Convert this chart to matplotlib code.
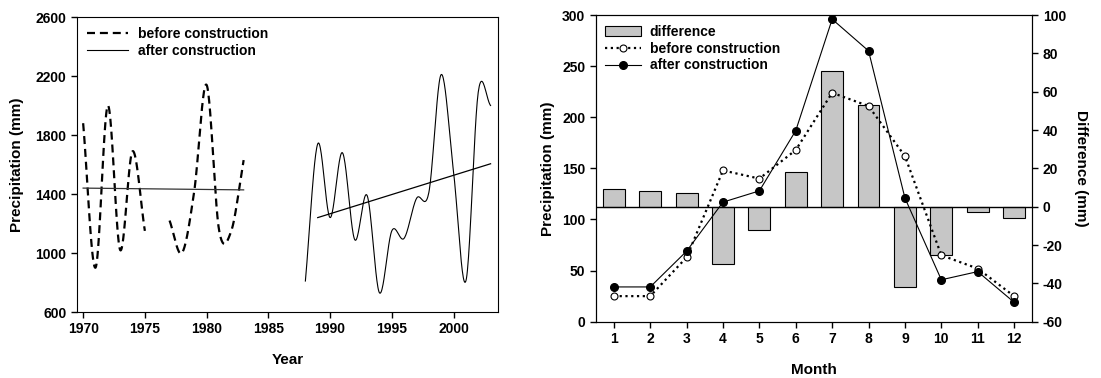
import matplotlib
matplotlib.use("Agg")
import matplotlib.pyplot as plt
import numpy as np

# Annual precipitation (mm)
years_before_a = [1970, 1971, 1972, 1973, 1974, 1975]
precip_before_a = [1880, 900, 2000, 1020, 1690, 1150]
years_before_b = [1977, 1978, 1979, 1980, 1981, 1982, 1983]
precip_before_b = [1220, 1000, 1420, 2140, 1160, 1150, 1630]
years_after = [1988, 1989, 1990, 1991, 1992, 1993, 1994, 1995, 1996,
               1997, 1998, 1999, 2000, 2001, 2002, 2003]
precip_after = [810, 1740, 1240, 1680, 1090, 1390, 730, 1150, 1100,
                1370, 1410, 2210, 1550, 810, 2090, 2000]
trend_before_x = [1970, 1983]
trend_before_y = [1440, 1428]
trend_after_x = [1989, 2003]
trend_after_y = [1240, 1605]

# Monthly precipitation (mm), right panel
months = np.arange(1, 13)
month_before = [25, 25, 63, 148, 140, 168, 224, 211, 162, 65, 52, 25]
month_after = [34, 34, 69, 117, 128, 187, 296, 265, 121, 41, 49, 19]
month_diff = [9, 8, 7, -30, -12, 18, 71, 53, -42, -25, -3, -6]

plt.rcParams['font.family'] = ['Liberation Sans', 'DejaVu Sans']
plt.rcParams['font.weight'] = 'bold'
plt.rcParams['axes.labelweight'] = 'bold'
plt.rcParams['axes.unicode_minus'] = False
plt.rcParams['xtick.direction'] = 'out'
plt.rcParams['ytick.direction'] = 'out'


def smooth(x, y, n=24):
    # Catmull-Rom curve through the points (the original uses a spline line)
    x = np.asarray(x, float)
    y = np.asarray(y, float)
    px = np.concatenate([[2 * x[0] - x[1]], x, [2 * x[-1] - x[-2]]])
    py = np.concatenate([[2 * y[0] - y[1]], y, [2 * y[-1] - y[-2]]])
    xs, ys = [], []
    t = np.linspace(0, 1, n, endpoint=False)
    for i in range(1, len(px) - 2):
        for p, out in ((px, xs), (py, ys)):
            p0, p1, p2, p3 = p[i - 1], p[i], p[i + 1], p[i + 2]
            out.extend(0.5 * (2 * p1 + (-p0 + p2) * t
                              + (2 * p0 - 5 * p1 + 4 * p2 - p3) * t ** 2
                              + (-p0 + 3 * p1 - 3 * p2 + p3) * t ** 3))
    xs.append(x[-1])
    ys.append(y[-1])
    return xs, ys


fig = plt.figure(figsize=(11.01, 3.78), dpi=100)

# ---- left panel ----
ax = fig.add_axes([0.0699, 0.1746, 0.3824, 0.7804])
dash = dict(color='black', lw=1.6, dashes=(3.6, 2.2))
ax.plot(*smooth(years_before_a, precip_before_a), label='before construction', **dash)
ax.plot(*smooth(years_before_b, precip_before_b), **dash)
ax.plot(*smooth(years_after, precip_after), color='black', lw=0.8,
        label='after construction')
ax.plot(trend_before_x, trend_before_y, color='#333333', lw=0.9)
ax.plot(trend_after_x, trend_after_y, color='black', lw=0.9)
ax.set_xlim(1969.5, 2003.6)
ax.set_ylim(600, 2600)
ax.set_xticks([1970, 1975, 1980, 1985, 1990, 1995, 2000])
ax.set_yticks([600, 1000, 1400, 1800, 2200, 2600])
ax.tick_params(labelsize=10, length=4, width=1)
ax.set_xlabel('Year', fontsize=11, labelpad=12)
ax.set_ylabel('Precipitation (mm)', fontsize=11, labelpad=8)
ax.legend(loc='upper left', frameon=False, fontsize=10, handlelength=3.0,
          borderaxespad=0.3, labelspacing=0.2, handletextpad=0.7)

# ---- right panel ----
ax1 = fig.add_axes([0.541, 0.149, 0.3966, 0.811])
ax2 = ax1.twinx()
ax1.set_zorder(ax2.get_zorder() + 1)
ax1.patch.set_visible(False)

bars = ax2.bar(months, month_diff, width=0.6, color='#c6c6c6',
               edgecolor='black', linewidth=0.8, label='difference')
ax2.axhline(0, color='black', lw=1)
l1, = ax1.plot(months, month_before, color='black', lw=1.6, ls=(0, (1, 1.6)),
               marker='o', ms=5, mfc='white', mec='black', mew=0.8,
               label='before construction')
l2, = ax1.plot(months, month_after, color='black', lw=0.8, marker='o', ms=5.5,
               mfc='black', mec='black', label='after construction')

ax1.set_xlim(0.5, 12.5)
ax1.set_ylim(0, 300)
ax2.set_ylim(-60, 100)
ax1.set_xticks(months)
ax1.set_yticks(np.arange(0, 301, 50))
ax2.set_yticks(np.arange(-60, 101, 20))
ax1.tick_params(labelsize=10, length=4, width=1)
ax2.tick_params(labelsize=10, length=4, width=1)
ax1.set_xlabel('Month', fontsize=11, labelpad=12)
ax1.set_ylabel('Precipitation (mm)', fontsize=11, labelpad=5)
ax2.set_ylabel('Difference (mm)', fontsize=11, rotation=270, labelpad=16)
ax1.legend([bars, l1, l2], ['difference', 'before construction', 'after construction'],
           loc='upper left', frameon=False, fontsize=10, handlelength=2.6,
           borderaxespad=0.3, labelspacing=0.2, handletextpad=0.6, numpoints=1)

fig.savefig('out.png', dpi=100)
